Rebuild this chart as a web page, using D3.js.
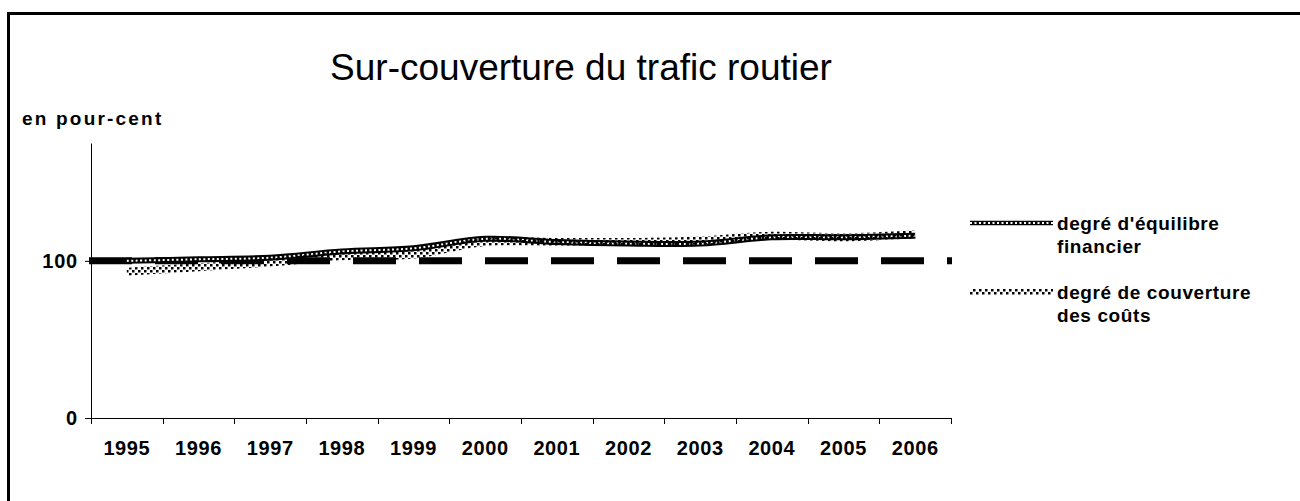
<!DOCTYPE html>
<html>
<head>
<meta charset="utf-8">
<script src="https://cdn.jsdelivr.net/npm/d3@7"></script>
<style>
  body { margin: 0; background: #fff; }
  svg { display: block; font-family: "Liberation Sans", Arial, sans-serif; }
</style>
</head>
<body>
<div id="chart"></div>
<script>
// data
const years = ["1995", "1996", "1997", "1998", "1999", "2000", "2001", "2002", "2003", "2004", "2005", "2006"];
const financier = [100, 101, 102, 106, 108, 114, 112, 111, 111, 115, 115, 116];
const couverture = [93, 96, 99, 103, 104, 112, 112, 112, 113, 116, 115, 117];
const refLevel = 100;
const yTicks = [0, 100];
const seriesNames = ["degré d'équilibre|financier", "degré de couverture|des coûts"];

const width = 1300;
const height = 501;
const plot = { left: 91, right: 951, top: 143, bottom: 418 };
const labelFont = "Liberation Sans, Arial, sans-serif";

const svg = d3.select("#chart").append("svg")
    .attr("width", width)
    .attr("height", height);

// pattern for the dotted series
const defs = svg.append("defs");
const dots = defs.append("pattern")
    .attr("id", "dots")
    .attr("patternUnits", "userSpaceOnUse")
    .attr("width", 6)
    .attr("height", 6);
dots.append("rect").attr("x", 0).attr("y", 0).attr("width", 2.5).attr("height", 2.5).attr("fill", "#000");
dots.append("rect").attr("x", 3).attr("y", 3).attr("width", 2.5).attr("height", 2.5).attr("fill", "#000");

// outer frame
svg.append("rect")
    .attr("x", 8.5)
    .attr("y", 13.5)
    .attr("width", 1400)
    .attr("height", 600)
    .attr("fill", "none")
    .attr("stroke", "#000")
    .attr("stroke-width", 3);

const x = d3.scaleBand()
    .domain(years)
    .range([plot.left, plot.right])
    .padding(0);

const y = d3.scaleLinear()
    .domain([0, 175])
    .range([plot.bottom, plot.top]);

const cx = d => x(d) + x.bandwidth() / 2;

// title
svg.append("text")
    .attr("x", 581)
    .attr("y", 80)
    .attr("text-anchor", "middle")
    .attr("font-size", 37)
    .text("Sur-couverture du trafic routier");

svg.append("text")
    .attr("x", 22)
    .attr("y", 125)
    .attr("font-size", 19)
    .attr("font-weight", "bold")
    .attr("letter-spacing", 2.2)
    .text("en pour-cent");

// y axis
svg.append("g")
    .attr("transform", `translate(${plot.left},0)`)
    .call(d3.axisLeft(y).tickValues(yTicks).tickSize(6).tickSizeOuter(0).tickPadding(7))
    .call(g => g.select(".domain").attr("stroke", "#000"))
    .call(g => g.selectAll("text")
        .attr("font-size", 20)
        .attr("font-weight", "bold")
        .attr("letter-spacing", 0.8)
        .attr("fill", "#000")
        .attr("font-family", labelFont));

// x axis: labels at category centres, ticks at category boundaries
svg.append("g")
    .attr("transform", `translate(0,${plot.bottom})`)
    .call(d3.axisBottom(x).tickSize(0).tickSizeOuter(0).tickPadding(23))
    .call(g => g.select(".domain").attr("stroke", "#000"))
    .call(g => g.selectAll("text")
        .attr("font-size", 20)
        .attr("font-weight", "bold")
        .attr("letter-spacing", 0.6)
        .attr("fill", "#000")
        .attr("font-family", labelFont));

svg.append("g")
    .attr("stroke", "#000")
    .selectAll("line")
    .data(years.map(d => x(d)).concat([x.range()[1]]))
    .join("line")
    .attr("x1", d => Math.round(d) + 0.5)
    .attr("x2", d => Math.round(d) + 0.5)
    .attr("y1", plot.bottom)
    .attr("y2", plot.bottom + 6);

// 100 % reference line
svg.append("line")
    .attr("x1", plot.left - 2)
    .attr("x2", plot.right + 1)
    .attr("y1", y(refLevel))
    .attr("y2", y(refLevel))
    .attr("stroke", "#000")
    .attr("stroke-width", 7)
    .attr("stroke-dasharray", "43,23");

const line = d3.line()
    .x((d, i) => cx(years[i]))
    .y(d => y(d))
    .curve(d3.curveCatmullRom.alpha(0.5));

// degré d'équilibre financier: black chain of hollow squares
function drawChain(sel, d, w) {
    sel.append("path")
        .attr("d", d)
        .attr("fill", "none")
        .attr("stroke", "#000")
        .attr("stroke-width", w);
    sel.append("path")
        .attr("d", d)
        .attr("fill", "none")
        .attr("stroke", "#fff")
        .attr("stroke-width", 2)
        .attr("stroke-dasharray", "2,2.5");
}

// degré de couverture des coûts: dotted band
function drawDots(sel, d, w) {
    sel.append("path")
        .attr("d", d)
        .attr("fill", "none")
        .attr("stroke", "url(#dots)")
        .attr("stroke-width", w);
}

drawChain(svg.append("g"), line(financier), 6);
drawDots(svg.append("g"), line(couverture), 8);

// legend
const legend = svg.selectAll(".legend")
    .data(seriesNames)
    .join("g")
    .attr("class", "legend")
    .attr("transform", (d, i) => `translate(970,${223 + i * 69})`);

legend.each(function(d, i) {
    const g = d3.select(this);
    const path = "M0,0L83,0";
    if (i === 0) drawChain(g, path, 4.5);
    else drawDots(g, path, 6);
    g.append("text")
        .attr("font-size", 19)
        .attr("font-weight", "bold")
        .attr("letter-spacing", 0.6)
        .selectAll("tspan")
        .data(d.split("|"))
        .join("tspan")
        .attr("x", 87)
        .attr("y", (t, j) => 7 + j * 23)
        .text(t => t);
});
</script>
</body>
</html>
